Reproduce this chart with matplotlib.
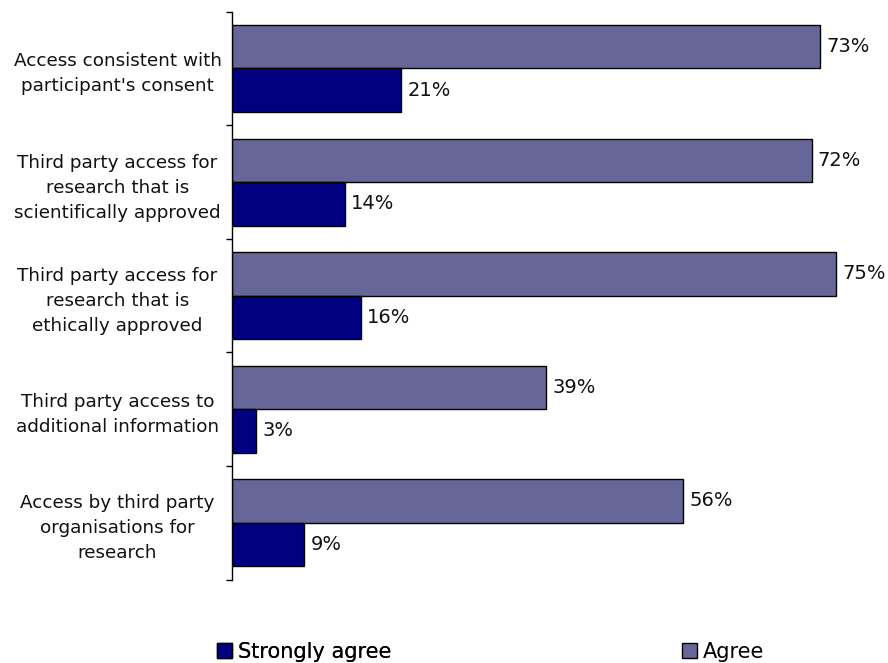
import matplotlib
matplotlib.use("Agg")
import matplotlib.pyplot as plt
from matplotlib.patches import Patch
import numpy as np

plt.rcParams['font.family'] = ['DejaVu Sans']

categories = [
    "Access consistent with\nparticipant's consent",
    "Third party access for\nresearch that is\nscientifically approved",
    "Third party access for\nresearch that is\nethically approved",
    "Third party access to\nadditional information",
    "Access by third party\norganisations for\nresearch",
]
agree = [73, 72, 75, 39, 56]
strongly_agree = [21, 14, 16, 3, 9]

agree_color = "#666699"
strong_color = "#000080"

fig = plt.figure(figsize=(8.88, 6.63), dpi=100)
ax = fig.add_axes([232 / 888, 1 - 579.5 / 663, (876 - 232) / 888, (579.5 - 11.7) / 663])

n = len(categories)
y = np.arange(n)
h = 0.383

ax.barh(y - h / 2, agree, height=h, color=agree_color, edgecolor="black", linewidth=1)
ax.barh(y + h / 2, strongly_agree, height=h, color=strong_color, edgecolor="black", linewidth=1)

for yi, v in zip(y, agree):
    ax.annotate(f"{v}%", (v, yi - h / 2), xytext=(4.5, 0), textcoords="offset points",
                va="center", ha="left", fontsize=14, color="#111111")
for yi, v in zip(y, strongly_agree):
    ax.annotate(f"{v}%", (v, yi + h / 2), xytext=(4.5, 0), textcoords="offset points",
                va="center", ha="left", fontsize=14, color="#111111")

ax.set_xlim(0, 80)
ax.set_ylim(n - 0.5, -0.5)
ax.set_xticks([])
ax.set_yticks(np.arange(n + 1) - 0.5, minor=True)
ax.set_yticks(y)
ax.set_yticklabels(categories, fontsize=13.2, linespacing=1.5, ha="center", color="#111111")
ax.tick_params(axis="y", which="major", length=0, pad=82.4)
ax.tick_params(axis="y", which="minor", length=4, width=1, direction="out")
for s in ["top", "right", "bottom"]:
    ax.spines[s].set_visible(False)
ax.spines["left"].set_linewidth(1)

legend_kw = dict(frameon=False, fontsize=15, handlelength=0.72, handleheight=0.72,
                 handletextpad=0.3, borderpad=0, borderaxespad=0, loc="center left")
leg1 = fig.legend(handles=[Patch(facecolor=strong_color, edgecolor="black", label="Strongly agree")],
                  bbox_to_anchor=(217 / 888, 1 - 651.5 / 663), **legend_kw)
leg2 = fig.legend(handles=[Patch(facecolor=agree_color, edgecolor="black", label="Agree")],
                  bbox_to_anchor=(682 / 888, 1 - 651.5 / 663), **legend_kw)
fig.add_artist(leg1)

fig.savefig("out.png", dpi=100)
